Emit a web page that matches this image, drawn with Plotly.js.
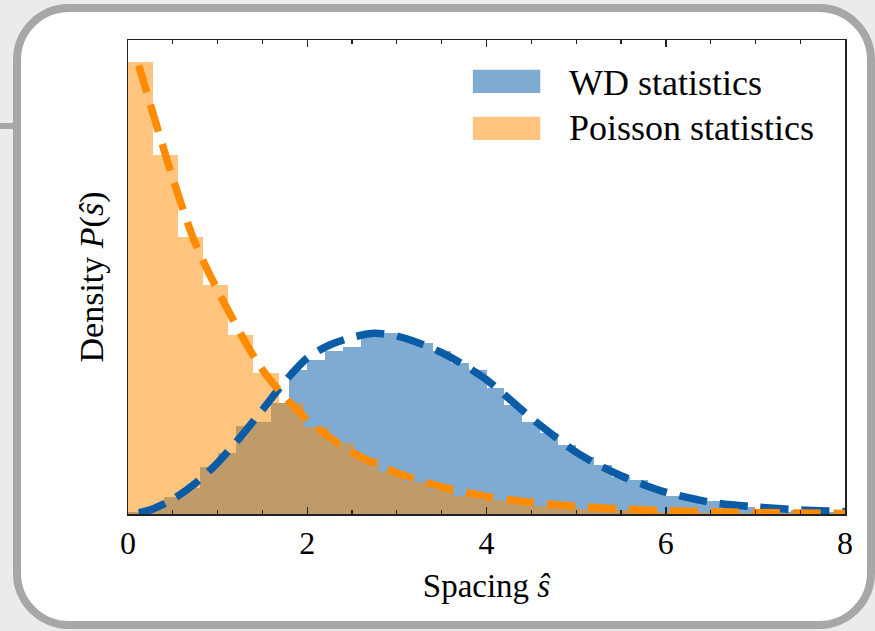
<!DOCTYPE html>
<html>
<head>
<meta charset="utf-8">
<script src="https://cdn.plot.ly/plotly-3.0.1.min.js"></script>
<style>
  html, body { margin: 0; padding: 0; background: #ebebeb; width: 875px; height: 631px; overflow: hidden; }
  #card { position: absolute; left: 13px; top: 4px; width: 862px; height: 625px; box-sizing: border-box;
          border: 8px solid #a5a8a7; border-radius: 56px; background: #ffffff; }
  #stub { position: absolute; left: 0; top: 123px; width: 16px; height: 6px; background: #a5a8a7; }
  #chart { position: absolute; left: 0; top: 0; width: 875px; height: 631px; }
</style>
</head>
<body>
<div id="stub"></div>
<div id="card"></div>
<div id="chart"></div>
<script>
// ---- data ----
const xTickVals = [0, 2, 4, 6, 8];
const xTickText = ["0", "2", "4", "6", "8"];

// WD statistics histogram (density), bins of width 0.2 starting at 0
const wdBinWidth = 0.2;
const wdDensity = [0.003, 0.010, 0.029, 0.045, 0.080, 0.104, 0.150, 0.156, 0.189, 0.245,
                   0.262, 0.276, 0.284, 0.301, 0.308, 0.299, 0.290, 0.276, 0.257, 0.245,
                   0.214, 0.185, 0.156, 0.138, 0.117, 0.097, 0.083, 0.063, 0.058, 0.041,
                   0.030, 0.027, 0.022, 0.015, 0.012, 0.007, 0.004, 0.006, 0.002, 0.003];

// Poisson statistics histogram (density), bins of width 0.28 starting at 0
const poissonBinWidth = 0.28;
const poissonDensity = [0.767, 0.609, 0.471, 0.389, 0.304, 0.240, 0.189, 0.148, 0.121, 0.095,
                        0.071, 0.054, 0.041, 0.031, 0.024, 0.019, 0.014, 0.010, 0.008, 0.006,
                        0.005, 0.004, 0.003, 0.002, 0.002, 0.001, 0.001, 0.001];

// Dashed reference curves
const wdCurveS = [0.12, 0.25, 0.5, 0.75, 1.0, 1.25, 1.5, 1.75, 2.0, 2.25, 2.5, 2.75, 3.0, 3.25, 3.5,
                  3.75, 4.0, 4.25, 4.5, 4.75, 5.0, 5.25, 5.5, 5.75, 6.0, 6.5, 7.0, 7.5, 8.0];
const wdCurveP = [0.002, 0.007, 0.025, 0.052, 0.087, 0.130, 0.177, 0.225, 0.265, 0.287, 0.300, 0.307, 0.302, 0.290, 0.274,
                  0.253, 0.228, 0.196, 0.163, 0.133, 0.105, 0.083, 0.065, 0.050, 0.037, 0.020, 0.012, 0.007, 0.004];

const poissonCurveS = [0.12, 0.5, 0.75, 1.0, 1.5, 2.0, 2.5, 3.0, 3.5, 4.0, 4.5, 5.0, 5.5, 6.0, 6.5, 7.0, 7.5, 8.0];
const poissonCurveP = [0.762, 0.57, 0.46, 0.38, 0.245, 0.16, 0.105, 0.070, 0.046, 0.030, 0.020, 0.013, 0.0085, 0.0056, 0.0037, 0.0025, 0.0016, 0.0010];

const seriesNames = ["WD statistics", "Poisson statistics"];

// ---- build traces ----
const wdCenters = wdDensity.map((_, i) => i * wdBinWidth + wdBinWidth / 2);
const poissonCenters = poissonDensity.map((_, i) => i * poissonBinWidth + poissonBinWidth / 2);

const blueFill = "rgba(0,87,168,0.5)";
const orangeFill = "rgba(255,140,0,0.5)";
const blueLine = "#0a5ca6";
const orangeLine = "#ff8c00";
const serif = "Liberation Serif, Times New Roman, serif";

const traces = [
  { type: "bar", x: wdCenters, y: wdDensity, width: wdBinWidth, name: seriesNames[0],
    marker: { color: blueFill, line: { width: 0 } }, showlegend: false, hoverinfo: "skip" },
  { type: "bar", x: poissonCenters, y: poissonDensity, width: poissonBinWidth, name: seriesNames[1],
    marker: { color: orangeFill, line: { width: 0 } }, showlegend: false, hoverinfo: "skip" },
  { type: "scatter", mode: "lines", x: wdCurveS, y: wdCurveP, showlegend: false,
    line: { color: blueLine, width: 7.5, dash: "28px,13px", shape: "spline", smoothing: 0.8 } },
  { type: "scatter", mode: "lines", x: poissonCurveS, y: poissonCurveP, showlegend: false,
    line: { color: orangeLine, width: 7.5, dash: "28px,13px", shape: "spline", smoothing: 0.8 } }
];

const axisColor = "#222222";
const layout = {
  width: 875, height: 631,
  margin: { l: 128, r: 30, t: 40, b: 117 },
  paper_bgcolor: "rgba(0,0,0,0)",
  plot_bgcolor: "#ffffff",
  barmode: "overlay",
  bargap: 0,
  showlegend: false,
  font: { family: serif, size: 32, color: "#000" },
  xaxis: {
    range: [0, 8], tickvals: xTickVals, ticktext: xTickText,
    ticks: "inside", ticklen: 7, tickwidth: 1.5, tickcolor: axisColor,
    minor: { dtick: 0.5, ticks: "inside", ticklen: 4, tickwidth: 1.2, tickcolor: axisColor },
    showline: true, linecolor: axisColor, linewidth: 1.5, mirror: "allticks",
    showgrid: false, zeroline: false,
    tickfont: { family: serif, size: 32, color: "#000" },
    title: { text: "Spacing <i>ŝ</i>", font: { family: serif, size: 33, color: "#000" }, standoff: 14 }
  },
  yaxis: {
    range: [0, 0.805], showticklabels: false, ticks: "",
    showline: true, linecolor: axisColor, linewidth: 1.5, mirror: true,
    showgrid: false, zeroline: false,
    title: { text: "Density <i>P</i>(<i>ŝ</i>)", font: { family: serif, size: 34, color: "#000" }, standoff: 12 }
  },
  shapes: [
    { type: "rect", xref: "paper", yref: "paper", x0: 0.481, x1: 0.575, y0: 0.888, y1: 0.937,
      fillcolor: blueFill, line: { width: 0 } },
    { type: "rect", xref: "paper", yref: "paper", x0: 0.481, x1: 0.575, y0: 0.789, y1: 0.838,
      fillcolor: orangeFill, line: { width: 0 } }
  ],
  annotations: [
    { xref: "paper", yref: "paper", x: 0.612, y: 0.909, xanchor: "left", yanchor: "middle",
      text: seriesNames[0], showarrow: false, font: { family: serif, size: 36, color: "#000" } },
    { xref: "paper", yref: "paper", x: 0.612, y: 0.814, xanchor: "left", yanchor: "middle",
      text: seriesNames[1], showarrow: false, font: { family: serif, size: 36, color: "#000" } }
  ]
};

Plotly.newPlot("chart", traces, layout, { staticPlot: true, displayModeBar: false });
</script>
</body>
</html>
